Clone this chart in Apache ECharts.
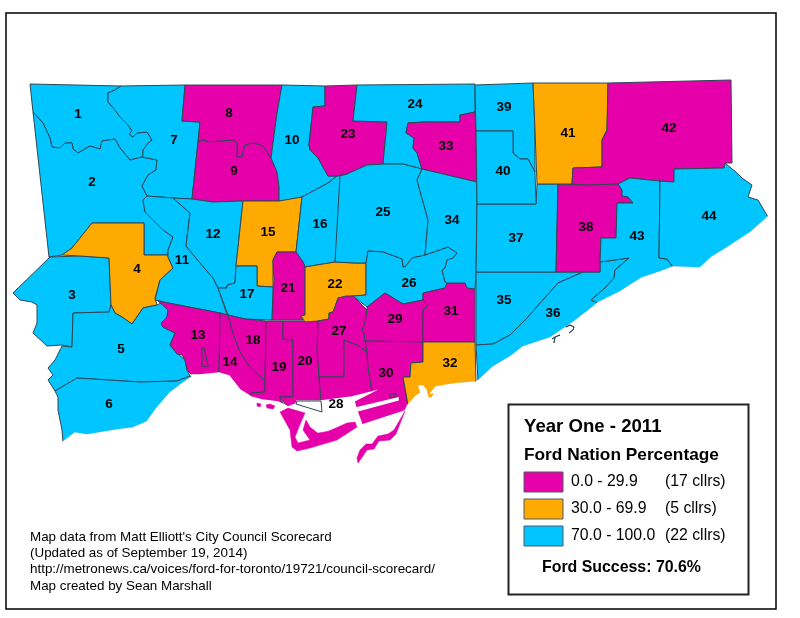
<!DOCTYPE html>
<html>
<head>
<meta charset="utf-8">
<title>Ford Nation Percentage</title>
<script src="https://cdn.jsdelivr.net/npm/echarts@6/dist/echarts.min.js"></script>
<style>
  html, body { margin: 0; padding: 0; background: #fff; }
  #main { width: 800px; height: 618px; }
</style>
</head>
<body>
<div id="main"></div>
<script>
// shared wiggly borders (x,y,x,y...)
var edge1_7 = [121,86,115,90,108,93,108,102,115,110,120,117,128,125,132,131,129,134,133,137,137,133,147,132,152,140,148,143,143,150,143,155,142,157];
var edge1_2 = [33,112,43,123,50,138,52,147,60,148,65,143,72,143,73,149,78,153,90,146,100,149,102,141,115,139,120,148,130,160,142,157];
var edge2_7 = [142,157,157,160,156,170,148,175,142,186,147,196];
var edge2_11 = [147,196,143,200,145,212,153,220,163,230,173,237,168,250,168,255];
var edge8_9 = [198,142,203,140,210,142,233,140,237,143,237,157,242,157,245,145,253,143,263,146,271,158];
var edge9_10 = [271,158,277,172,279,187,279,201];
var edge10_23 = [325,86,325,106,313,107,309,145,310,150,318,158,328,176,337,176];
var edge24_33 = [475,112,460,115,460,122,423,122,408,123,406,133,414,138,413,148,417,153,422,169];
var edge25_26 = [425,255,412,258,405,267,403,267,402,259,383,252,368,251,366,263];
var edge12_11 = [173,198,190,213,186,246,200,263,213,278,218,288];
var edge14_18 = [228,315,233,333,240,352,250,367,265,381];
var edge35_36 = [583,272,558,283,527,318,510,335,493,344,476,345];
var edge36_43 = [600,262,629,258,615,270,614,278,605,288,591,300,598,303];
var edge26_east = [425,255,448,247,457,253,453,258,447,260,445,268,442,270,445,282,447,283];

function reversed(flat) {
  var out = [];
  for (var i = flat.length - 2; i >= 0; i -= 2) out.push(flat[i], flat[i + 1]);
  return out;
}

// ward outlines
var ward1 = [30,84].concat(edge1_7, reversed(edge1_2));
var ward2 = edge1_2.concat(edge2_7, edge2_11, [144,255,144,223,92,223,72,248,62,255,49,257]);
var ward3 = [50,257,80,256,109,258,111,305,109,312,73,313,72,347,62,345,47,346,33,333,37,323,37,305,32,302,20,300,13,293];
var ward4 = [92,223,144,223,144,255,168,255,168,257,173,268,160,280,155,298,157,305,143,308,132,324,122,317,115,313,111,305,109,258,80,256,62,255,72,248];
var ward5 = [73,313,109,312,111,305,115,313,122,317,132,324,143,308,157,305,163,302,168,310,167,317,161,323,163,327,175,333,170,345,177,353,185,360,187,370,190,376,177,381,140,382,77,378,55,391,48,380,53,375,48,368,55,360,62,346,72,347];
var ward6 = [55,391,77,378,140,382,177,381,190,376,192,377,183,383,170,393,157,408,147,422,133,428,117,430,87,435,75,433,63,442,62,430,58,410,58,397];
var ward7 = [121,86,185,85,182,121,200,122,198,142,192,199,173,198,147,196,142,186,148,175,156,170,157,160,142,157].concat(reversed(edge1_7));
var ward8 = [185,85,282,85,277,113,271,158].concat(reversed(edge8_9), [200,122,182,121]);
var ward9 = edge8_9.concat(edge9_10, [243,201,213,202,192,199]);
var ward10 = [282,85].concat(edge10_23, [328,183,302,197,288,200], reversed(edge9_10), [277,113]);
var ward11 = [147,196].concat(edge12_11, [227,315,220,313,163,302,155,300,160,280,173,268,168,257], reversed(edge2_11).slice(2));
var ward12 = [173,198,192,199,213,202,243,201,236,266,235,283,227,285,227,288,218,288,213,278,200,263,186,246,190,213];
var ward13 = [157,300,163,302,220,313,219,373,200,375,192,375,187,370,185,360,182,355,177,354,170,345,175,333,163,327,161,323,167,317,168,310];
var ward13Pond = [202,348,204,348,208,365,208,367,202,366];
var ward14 = [220,313].concat(edge14_18, [265,392,251,393,251,397,240,390,229,376,219,373]);
var ward15 = [243,201,279,201,302,197,296,252,277,252,273,260,273,287,257,286,257,266,236,266];
var ward16 = [302,197,328,183,337,176,347,174,335,262,305,267,303,262,296,252];
var ward17 = [218,288,227,288,227,285,235,283,236,266,257,266,257,286,273,287,272,320,245,319,228,315];
var ward18 = [228,315,245,319,266,321,265,381,250,367,240,352,233,333];
var ward19 = [266,321,283,321,283,339,293,340,293,397,279,397,284,405,278,402,262,400,251,397,251,393,265,392];
var ward20 = [283,321,318,321,319,377,321,401,297,401,296,404,288,407,279,397,293,397,293,340,283,339];
var ward21 = [277,252,296,252,303,262,305,267,305,315,301,316,303,320,272,320,274,280,273,260];
var ward22 = [305,267,335,262,355,263,366,263,366,295,353,296,338,298,335,307,333,312,329,313,329,319,318,321,305,322,301,316,305,315];
var ward23 = [325,86,357,85,353,121,387,122,383,164,367,165,347,174,337,176].concat(reversed(edge10_23).slice(2));
var ward24 = [357,85,475,84,475,112].concat(edge24_33.slice(2), [403,164,383,164,387,122,353,121]);
var ward25 = [340,176,347,174,367,165,383,164,403,164,422,169,417,180,428,220].concat(edge25_26, [355,263,335,262]);
var ward26 = [366,263].concat(reversed(edge25_26).slice(2), edge26_east.slice(2), [445,288,423,293,423,300,403,304,398,301,385,293,367,307,353,296,366,295]);
var ward27 = [318,321,329,319,329,313,333,312,335,307,338,298,346,296,353,296,367,310,365,323,362,330,364,333,365,341,367,352,357,345,344,340,344,377,319,377,317,350];
var ward28 = [319,377,344,377,344,340,357,345,367,352,368,367,372,392,352,397,321,401];
var ward29 = [367,307,385,293,398,301,403,304,423,300,428,305,423,310,423,342,365,341,364,333,362,330,365,323,367,310];
var ward30 = [365,341,423,342,423,362,411,363,410,377,403,377,408,405,405,411,362,425,357,411,398,400,398,398,356,408,354,401,372,392,368,367,367,352];
var ward30Slip = [390,394,396,394,396,397,390,398];
var ward31 = [423,293,445,288,447,283,465,283,467,288,475,289,475,342,423,342,423,310,428,305,423,300];
var ward32 = [423,342,475,342,476,382,453,384,436,387,431,393,435,393,432,398,428,398,426,390,423,386,419,386,421,393,416,396,408,405,403,377,410,377,411,363,423,362];
var ward33 = edge24_33.concat([477,182]);
var ward34 = [422,169,477,182,477,204,476,272,475,289,467,288,465,283].concat(reversed(edge26_east), [428,220,417,180]);
var ward35 = [476,272,556,272].concat(edge35_36);
var ward36 = [583,272,600,272].concat(edge36_43, [593,307,575,321,550,338,523,347,510,357,493,367,478,381,476,345], reversed(edge35_36).slice(2,-2));
var ward37 = [477,204,536,204,537,184,558,184,556,272,476,272];
var ward38 = [558,184,587,185,618,184,622,190,622,196,628,197,633,203,617,203,616,238,601,238,600,262,600,272,556,272];
var ward39 = [475,85,533,83,535,130,535,172,528,159,520,159,513,153,513,131,476,131];
var ward40 = [476,131,513,131,513,153,520,159,528,159,535,172,536,204,477,204];
var ward41 = [533,83,608,83,607,130,602,140,602,167,573,168,572,184,537,184,535,130];
var ward42 = [608,83,731,80,732,163,725,163,724,168,674,169,674,182,660,181,630,178,618,184,587,185,572,184,573,168,602,167,602,140,607,130];
var ward43 = [618,184,630,178,660,181,659,258,667,259,673,267,660,272,642,278,620,292,598,303].concat(reversed(edge36_43).slice(2), [601,238,616,238,617,203,633,203,628,197,622,196,622,190]);
var ward44 = [674,169,724,168,725,163,737,173,742,178,752,185,748,197,758,200,768,217,750,233,727,248,712,257,700,268,673,267,667,259,659,258,660,181,674,182];

// water and the bits that sit on top of it
var lake = [63,442,75,433,87,435,117,430,133,428,147,422,157,408,170,393,183,383,192,377,192,375,200,375,219,373,229,376,240,390,251,397,262,400,278,402,284,405,288,407,296,404,297,401,321,401,352,397,372,392,354,401,356,408,398,398,398,400,357,411,362,425,405,411,408,405,416,396,421,393,419,386,423,386,426,390,428,398,432,398,435,393,431,393,436,387,453,384,476,382,478,381,493,367,510,357,523,347,550,338,575,321,593,307,598,303,620,292,642,278,660,272,673,267,700,268,712,257,727,248,750,233,768,217,772,240,772,604,10,604,10,450,63,450];
var islands = [280,412,288,408,305,413,301,422,295,437,298,443,310,440,303,430,306,420,310,427,320,435,347,423,355,422,357,427,337,440,310,448,297,451,292,447,290,430];
var lagoon = [313,434,330,431,340,428,332,434,316,438];
var ontarioPlace1 = [257,403,261,404,260,407,257,406];
var ontarioPlace2 = [266,405,270,404,275,406,273,409,267,408];
var spit = [405,411,396,434,390,440,379,441,374,449,367,450,363,456,358,463,357,458,360,450,366,444,372,444,378,436,388,434,394,430];
var harbourLine = [296,404,322,412,321,401,297,401];
var hook1 = [566,327,570,325,574,327,573,330,569,333,573,330,574,327,570,325];
var hook2 = [552,339,555,337,560,335,555,337,554,343,555,337];

// ward number, band (0 magenta, 1 orange, 2 blue), label spot
var wardNumbers = [1,2,3,4,5,6,7,8,9,10,11,12,13,14,15,16,17,18,19,20,21,22,23,24,25,26,27,28,29,30,31,32,33,34,35,36,37,38,39,40,41,42,43,44];
var wardBands = [2,2,2,1,2,2,2,0,0,2,2,2,0,0,1,2,2,0,0,0,0,1,0,2,2,2,0,0,0,0,0,1,0,2,2,2,2,0,2,2,1,0,2,2];
var wardShapes = [ward1,ward2,ward3,ward4,ward5,ward6,ward7,ward8,ward9,ward10,ward11,ward12,ward13,ward14,ward15,ward16,ward17,ward18,ward19,ward20,ward21,ward22,ward23,ward24,ward25,ward26,ward27,ward28,ward29,ward30,ward31,ward32,ward33,ward34,ward35,ward36,ward37,ward38,ward39,ward40,ward41,ward42,ward43,ward44];
var labelX = [78,92,72,137,121,109,174,229,234,292,182,213,198,230,268,320,247,253,279,305,288,335,348,415,383,409,339,336,395,386,451,450,446,452,504,553,516,586,504,503,568,669,637,709];
var labelY = [114,182,295,269,349,404,140,113,171,140,260,234,335,362,232,224,294,340,367,361,288,284,134,104,212,283,331,404,319,373,311,363,146,220,300,313,238,227,107,171,133,128,236,216];

var bandColors = ['#e600a9', '#ffaa00', '#00c5ff'];
var bandRanges = ['0.0 - 29.9', '30.0 - 69.9', '70.0 - 100.0'];
var bandCounts = ['(17 cllrs)', '(5 cllrs)', '(22 cllrs)'];
var creditLines = [
  "Map data from Matt Elliott's City Council Scorecard",
  '(Updated as of September 19, 2014)',
  'http://metronews.ca/voices/ford-for-toronto/19721/council-scorecard/',
  'Map created by Sean Marshall'
];

function toRing(flat) {
  var ring = [];
  for (var i = 0; i < flat.length; i += 2) ring.push([flat[i], flat[i + 1]]);
  ring.push([flat[0], flat[1]]);
  return ring;
}
function feature(name, cp, rings) {
  return {
    type: 'Feature',
    properties: { name: name, cp: cp },
    geometry: { type: 'Polygon', coordinates: rings.map(toRing) }
  };
}

var features = wardNumbers.map(function (n, i) {
  var rings = [wardShapes[i]];
  if (n === 13) rings.push(ward13Pond);
  if (n === 30) rings.push(ward30Slip);
  return feature(String(n), [labelX[i], labelY[i]], rings);
});
// order matters: the lake paints over the dark shoreline, the rest goes on top of it
features.push(feature('lake', [600, 500], [lake]));
features.push(feature('islands', [300, 430], [islands, lagoon]));
features.push(feature('ontarioPlace1', [259, 405], [ontarioPlace1]));
features.push(feature('ontarioPlace2', [270, 406], [ontarioPlace2]));
features.push(feature('spit', [380, 440], [spit]));
features.push(feature('harbour', [310, 405], [harbourLine]));
features.push(feature('hook1', [570, 328], [hook1]));
features.push(feature('hook2', [555, 339], [hook2]));
echarts.registerMap('wards', { type: 'FeatureCollection', features: features });

var seriesData = wardNumbers.map(function (n, i) { return { name: String(n), value: wardBands[i] }; });
seriesData.push({ name: 'lake', itemStyle: { areaColor: '#fff', borderColor: '#fff', borderWidth: 1.5 } });
['islands', 'ontarioPlace1', 'ontarioPlace2', 'spit'].forEach(function (name) {
  seriesData.push({ name: name, value: 0, itemStyle: { borderColor: bandColors[0], borderWidth: 0.5 } });
});

var myChart = echarts.init(document.getElementById('main'));

var sans = '"Liberation Sans", Arial, sans-serif';
var graphics = [
  { type: 'rect', z: 0, shape: { x: 6, y: 13, width: 770, height: 596 }, style: { fill: 'none', stroke: '#000', lineWidth: 1.5 } },
  { type: 'rect', z: 5, shape: { x: 508.5, y: 404.5, width: 240, height: 190 }, style: { fill: '#fff', stroke: '#222', lineWidth: 2 } },
  { type: 'text', z: 6, style: { x: 524, y: 427, text: 'Year One - 2011', font: 'bold 18.6px ' + sans, fill: '#000', textVerticalAlign: 'middle' } },
  { type: 'text', z: 6, style: { x: 524, y: 455, text: 'Ford Nation Percentage', font: 'bold 17.3px ' + sans, fill: '#000', textVerticalAlign: 'middle' } },
  { type: 'text', z: 6, style: { x: 542, y: 568, text: 'Ford Success: 70.6%', font: 'bold 15.9px ' + sans, fill: '#000', textVerticalAlign: 'middle' } }
];
bandColors.forEach(function (c, i) {
  var top = 472 + i * 27;
  graphics.push({ type: 'rect', z: 6, shape: { x: 524, y: top, width: 39, height: 20 }, style: { fill: c, stroke: '#4e5a63', lineWidth: 1 } });
  graphics.push({ type: 'text', z: 6, style: { x: 571, y: top + 10, text: bandRanges[i], font: '15.8px ' + sans, fill: '#000', textVerticalAlign: 'middle' } });
  graphics.push({ type: 'text', z: 6, style: { x: 665, y: top + 10, text: bandCounts[i], font: '15.8px ' + sans, fill: '#000', textVerticalAlign: 'middle' } });
});
creditLines.forEach(function (t, i) {
  graphics.push({ type: 'text', z: 6, style: { x: 30, y: 537 + i * 16.3, text: t, font: '13.4px ' + sans, fill: '#000', textVerticalAlign: 'middle' } });
});

var option = {
  animation: false,
  backgroundColor: '#fff',
  graphic: graphics,
  visualMap: {
    show: false,
    type: 'piecewise',
    seriesIndex: 0,
    pieces: [
      { value: 0, color: bandColors[0] },
      { value: 1, color: bandColors[1] },
      { value: 2, color: bandColors[2] }
    ]
  },
  series: [{
    type: 'map',
    map: 'wards',
    silent: true,
    roam: false,
    projection: {
      project: function (p) { return p; },
      unproject: function (p) { return p; }
    },
    boundingCoords: [[0, 0], [800, 618]],
    left: 0,
    top: 0,
    width: 800,
    height: 618,
    aspectScale: 1,
    itemStyle: { areaColor: '#fff', borderColor: '#2e4756', borderWidth: 1 },
    label: {
      show: true,
      color: '#000',
      fontFamily: sans,
      fontWeight: 'bold',
      fontSize: 13.5,
      formatter: function (p) { return /^\d+$/.test(p.name) ? p.name : ''; }
    },
    data: seriesData
  }]
};
myChart.setOption(option);
</script>
</body>
</html>
